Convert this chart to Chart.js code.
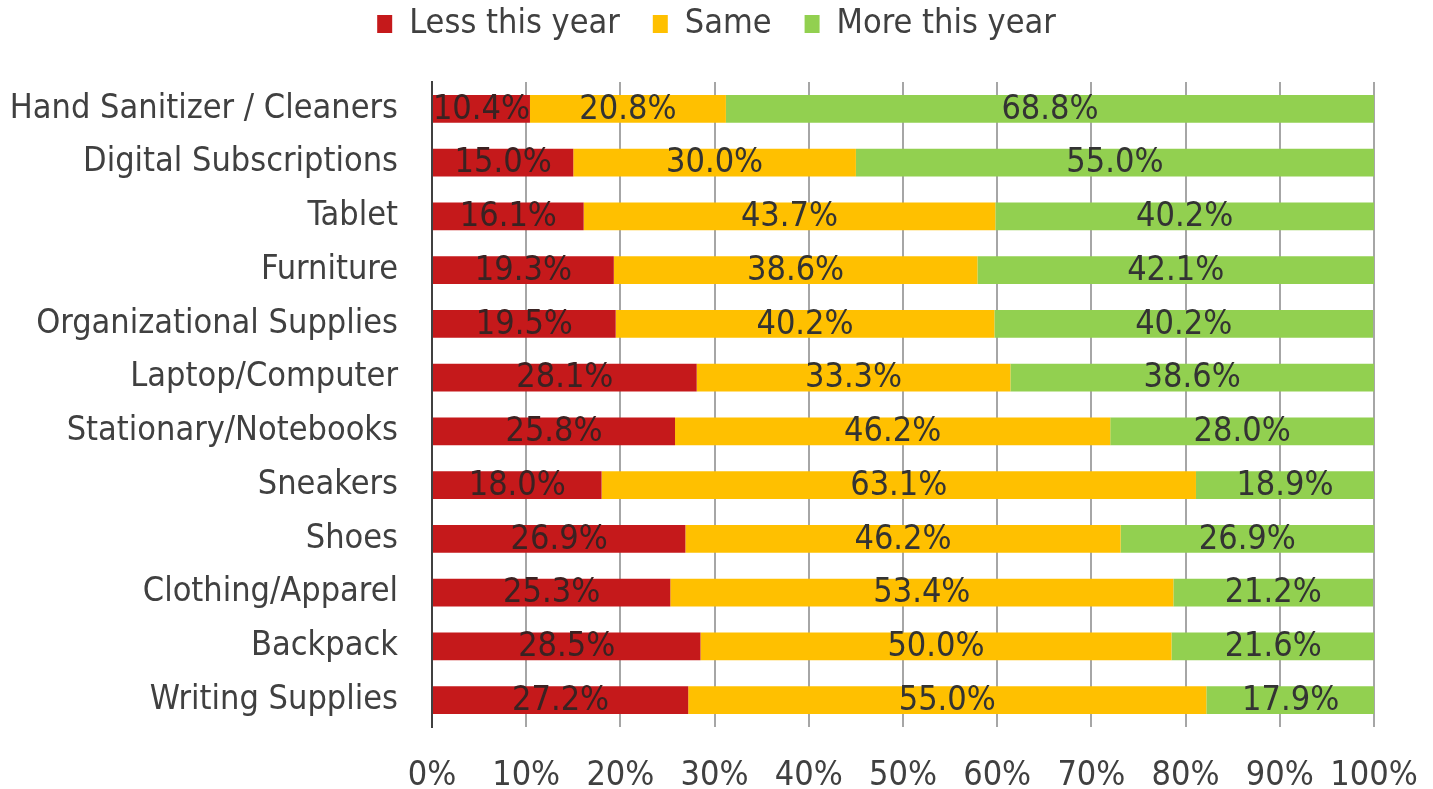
<!DOCTYPE html>
<html>
<head>
<meta charset="utf-8">
<script src="https://cdn.jsdelivr.net/npm/chart.js@4"></script>
<style>
  html, body { margin: 0; padding: 0; background: #fff; }
  #wrap { width: 1433px; height: 789px; }
</style>
</head>
<body>
<div id="wrap"><canvas id="myChart" width="1433" height="789"></canvas></div>
<script>
// data
const categories = ["Hand Sanitizer / Cleaners", "Digital Subscriptions", "Tablet", "Furniture", "Organizational Supplies",
                    "Laptop/Computer", "Stationary/Notebooks", "Sneakers", "Shoes", "Clothing/Apparel", "Backpack", "Writing Supplies"];
const less_this_year = [10.4, 15.0, 16.1, 19.3, 19.5, 28.1, 25.8, 18.0, 26.9, 25.3, 28.5, 27.2];
const same = [20.8, 30.0, 43.7, 38.6, 40.2, 33.3, 46.2, 63.1, 46.2, 53.4, 50.0, 55.0];
const more_this_year = [68.8, 55.0, 40.2, 42.1, 40.2, 38.6, 28.0, 18.9, 26.9, 21.2, 21.6, 17.9];
const x_ticks = [0, 10, 20, 30, 40, 50, 60, 70, 80, 90, 100];

const FONT = '"DejaVu Sans Condensed", "DejaVu Sans", sans-serif';
Chart.defaults.font.family = FONT;
Chart.defaults.color = '#404040';

// labels inside each bar segment
const barLabels = {
    id: 'barLabels',
    afterDatasetsDraw(chart) {
        const ctx = chart.ctx;
        ctx.save();
        ctx.font = '34px ' + FONT;
        ctx.textAlign = 'center';
        ctx.textBaseline = 'middle';
        chart.data.datasets.forEach((ds, i) => {
            const meta = chart.getDatasetMeta(i);
            ctx.fillStyle = i === 0 ? '#3a2222' : '#333333';
            meta.data.forEach((bar, j) => {
                const cx = (bar.x + bar.base) / 2;
                ctx.fillText(ds.data[j].toFixed(1) + '%', cx, bar.y + 1);
            });
        });
        ctx.restore();
    }
};

// fixed legend height so the plot starts where the original does
const legendHeight = {
    id: 'legendHeight',
    beforeUpdate(chart) {
        const lg = chart.legend;
        if (lg && !lg._fixed) {
            const fit = lg.fit;
            lg.fit = function () { fit.call(this); this.height = 108; };
            lg._fixed = true;
        }
    }
};

const ctx = document.getElementById('myChart');
const myChart = new Chart(ctx, {
    type: 'bar',
    data: {
        labels: categories,
        datasets: [
            { label: 'Less this year', data: less_this_year, backgroundColor: '#C5191B' },
            { label: 'Same', data: same, backgroundColor: '#FFC000' },
            { label: 'More this year', data: more_this_year, backgroundColor: '#92D050' }
        ]
    },
    options: {
        indexAxis: 'y',
        responsive: false,
        animation: false,
        layout: { padding: { top: -26, right: 0, left: 0, bottom: 0 } },
        datasets: {
            bar: { barPercentage: 0.52, categoryPercentage: 1.0 }
        },
        plugins: {
            legend: {
                position: 'top',
                labels: {
                    font: { size: 34 },
                    color: '#404040',
                    boxWidth: 15,
                    boxHeight: 18,
                    padding: 33
                }
            },
            tooltip: { enabled: false }
        },
        scales: {
            x: {
                stacked: true,
                min: 0,
                max: 100,
                afterBuildTicks: (scale) => { scale.ticks = x_ticks.map(v => ({ value: v })); },
                afterFit: (scale) => {
                    scale.height = 62;
                    scale.paddingLeft = 0;
                    scale.paddingRight = 59;
                },
                ticks: {
                    font: { size: 34 },
                    color: '#404040',
                    padding: 29,
                    maxRotation: 0,
                    callback: (v) => v + '%'
                },
                grid: { color: '#A6A6A6', lineWidth: 2, drawTicks: false },
                border: { display: false }
            },
            y: {
                stacked: true,
                afterFit: (scale) => { scale.width = 432; },
                ticks: {
                    font: { size: 34 },
                    color: '#404040',
                    padding: 34
                },
                grid: { display: false, drawTicks: false },
                border: { display: true, color: '#404040', width: 2 }
            }
        }
    },
    plugins: [barLabels, legendHeight]
});
</script>
</body>
</html>
